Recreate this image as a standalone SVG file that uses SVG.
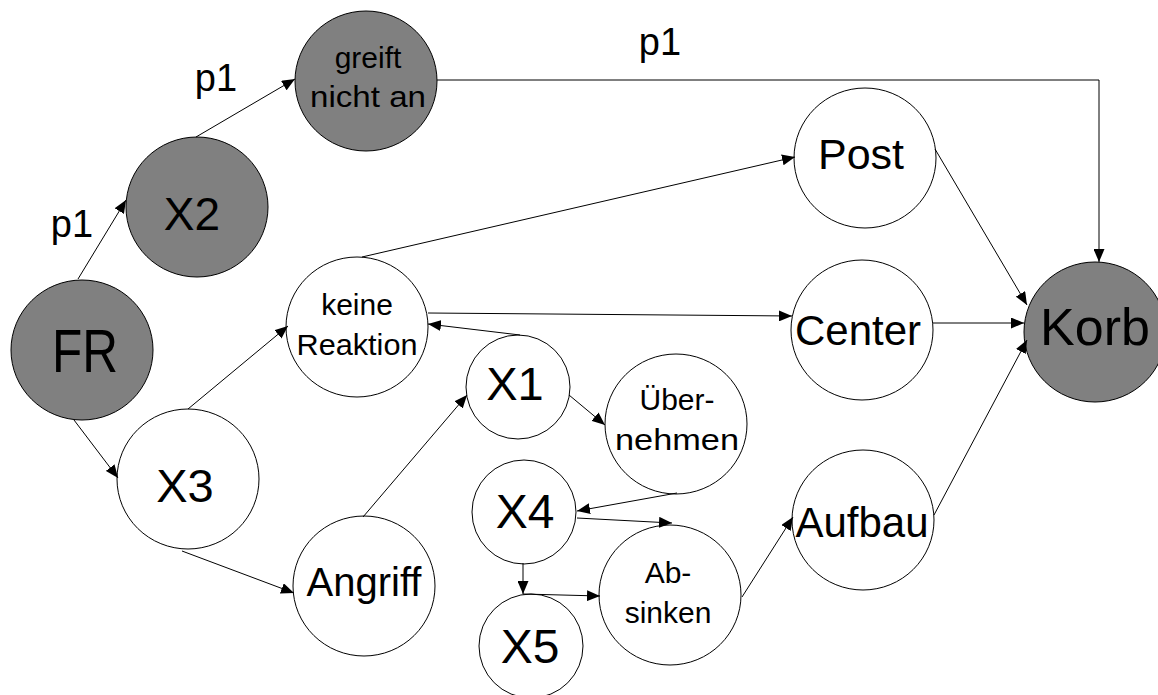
<svg xmlns="http://www.w3.org/2000/svg" width="1158" height="695" viewBox="0 0 1158 695">
<style>
.n{stroke:#000;stroke-width:1}
.g{fill:#808080}
.w{fill:#fff}
text{font-family:"Liberation Sans",Arial,sans-serif;fill:#000;text-anchor:middle}
.s{font-size:30px}
.e{fill:none;stroke:#000;stroke-width:1;marker-end:url(#ah)}
</style>
<defs>
<marker id="ah" markerUnits="userSpaceOnUse" markerWidth="13" markerHeight="11" refX="13" refY="5.5" orient="auto">
<path d="M0,0 L13,5.5 L0,11 z" fill="#000"/>
</marker>
</defs>
<rect width="1158" height="695" fill="#fff"/>
<g id="node-FR"><ellipse class="n g" cx="82" cy="350" rx="71" ry="70"/><text x="85" y="372" font-size="62" textLength="66" lengthAdjust="spacingAndGlyphs">FR</text></g>
<g id="node-X2"><ellipse class="n g" cx="197" cy="207" rx="71" ry="70"/><text x="192" y="230" font-size="46">X2</text></g>
<g id="node-greift"><ellipse class="n g" cx="366" cy="81" rx="71" ry="70"/><text class="s" x="368" y="68">greift</text><text class="s" x="368" y="107" textLength="116" lengthAdjust="spacingAndGlyphs">nicht an</text></g>
<g id="node-X3"><ellipse class="n w" cx="188" cy="479" rx="71" ry="70"/><text x="185" y="502" font-size="47">X3</text></g>
<g id="node-keine"><ellipse class="n w" cx="357" cy="327" rx="71" ry="70"/><text class="s" x="357" y="315">keine</text><text class="s" x="357" y="355" textLength="121" lengthAdjust="spacingAndGlyphs">Reaktion</text></g>
<g id="node-Angriff"><ellipse class="n w" cx="364" cy="586" rx="71" ry="70"/><text x="364" y="596" font-size="40">Angriff</text></g>
<g id="node-X1"><ellipse class="n w" cx="518" cy="387" rx="52" ry="52"/><text x="515" y="400" font-size="47">X1</text></g>
<g id="node-Uebernehmen"><ellipse class="n w" cx="676" cy="424" rx="71" ry="70"/><text class="s" x="677" y="410">Über-</text><text class="s" x="677" y="450" textLength="124" lengthAdjust="spacingAndGlyphs">nehmen</text></g>
<g id="node-X4"><ellipse class="n w" cx="524" cy="512" rx="52" ry="52"/><text x="525" y="528" font-size="48">X4</text></g>
<g id="node-X5"><ellipse class="n w" cx="531" cy="646" rx="52" ry="52"/><text x="530" y="663" font-size="48">X5</text></g>
<g id="node-Absinken"><ellipse class="n w" cx="670" cy="595" rx="71" ry="70"/><text class="s" x="668" y="583">Ab-</text><text class="s" x="668" y="623">sinken</text></g>
<g id="node-Aufbau"><ellipse class="n w" cx="863" cy="520" rx="71" ry="70"/><text x="862" y="537" font-size="42">Aufbau</text></g>
<g id="node-Post"><ellipse class="n w" cx="865" cy="158" rx="71" ry="70"/><text x="861" y="169" font-size="43">Post</text></g>
<g id="node-Center"><ellipse class="n w" cx="862" cy="330" rx="71" ry="70"/><text x="858" y="345" font-size="42">Center</text></g>
<g id="node-Korb"><ellipse class="n g" cx="1095" cy="332" rx="71" ry="70"/><text x="1095" y="345" font-size="52">Korb</text></g>
<g id="connectors">
<path class="e" d="M78,279 L126,200"/>
<path class="e" d="M196,137 L295,79"/>
<path class="e" d="M437,80 L1099,80 L1099,262"/>
<path class="e" d="M74,420 L118,478"/>
<path class="e" d="M188,409 L288,326"/>
<path class="e" d="M182,551 L294,593"/>
<path class="e" d="M362,257 L795,157"/>
<path class="e" d="M428,313 L792,316"/>
<path class="e" d="M935,149 L1027,305"/>
<path class="e" d="M933,323 L1024,323"/>
<path class="e" d="M934,515 L1027,340"/>
<path class="e" d="M520,335 L428,324"/>
<path class="e" d="M363,517 L467,395"/>
<path class="e" d="M569,395 L605,425"/>
<path class="e" d="M677,493 L577,511"/>
<path class="e" d="M577,518 L672,523"/>
<path class="e" d="M523,563 L523,594"/>
<path class="e" d="M523,594 L600,596"/>
<path class="e" d="M742,597 L793,517"/>
<text x="660" y="55" font-size="38">p1</text>
<text x="216" y="91" font-size="38">p1</text>
<text x="72" y="237" font-size="38">p1</text>
</g>
</svg>
